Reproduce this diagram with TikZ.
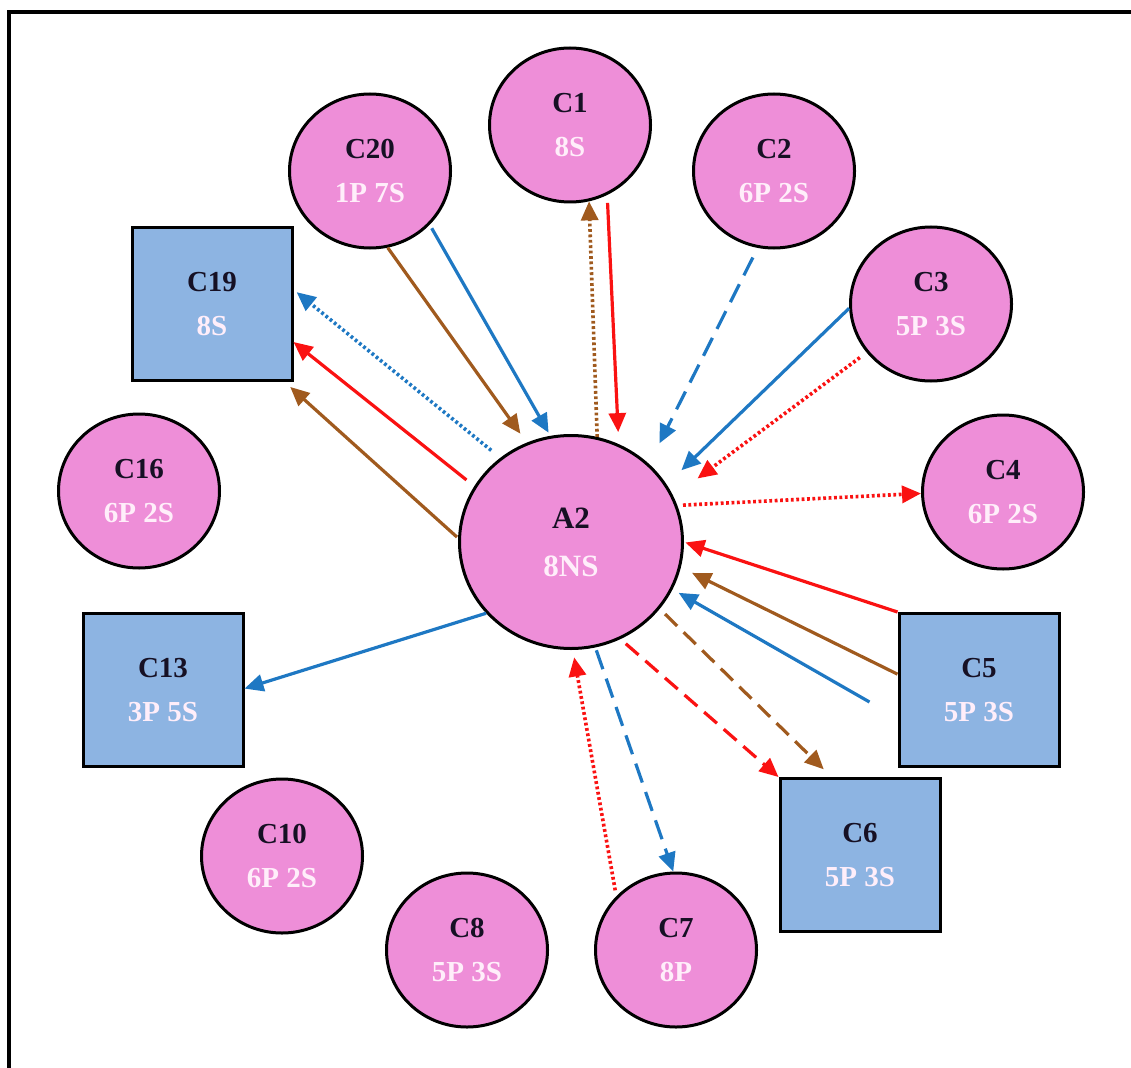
\documentclass[tikz,border=0pt]{standalone}
\usepackage{fontspec}
\setmainfont{Liberation Serif}
\usetikzlibrary{shapes.geometric,arrows.meta,calc}
\definecolor{pinkfill}{RGB}{238,142,216}
\definecolor{bluefill}{RGB}{141,180,226}
\definecolor{toptext}{RGB}{22,16,36}
\definecolor{bottext}{RGB}{255,238,250}
\definecolor{redc}{RGB}{250,18,18}
\definecolor{bluec}{RGB}{30,120,195}
\definecolor{brownc}{RGB}{160,90,30}
\newcommand{\toplab}[1]{{\color{toptext}#1}}
\newcommand{\botlab}[1]{{\color{bottext}#1}}
\begin{document}
\begin{tikzpicture}[x=1pt,y=-1pt,
  circ/.style={ellipse, draw=black, line width=3pt, fill=pinkfill,
    minimum width=161pt, minimum height=154pt, inner sep=0pt, align=center,
    font=\fontsize{29}{44}\selectfont\bfseries},
  bigcirc/.style={circ, minimum width=223pt, minimum height=213pt,
    font=\fontsize{31}{48}\selectfont\bfseries},
  sq/.style={rectangle, draw=black, line width=3pt, fill=bluefill,
    minimum width=160pt, minimum height=153pt, inner sep=0pt, align=center,
    font=\fontsize{29}{44}\selectfont\bfseries},
  con/.style={line width=3.2pt, -{Triangle[length=19pt,width=17pt]}},
  dotl/.style={line width=3.6pt, dash pattern=on 2.8pt off 2.6pt},
  dashl/.style={dash pattern=on 20pt off 10pt},
  dashs/.style={dash pattern=on 17pt off 9pt},
]
\useasboundingbox (0,0) rectangle (1131,1067);
% frame
\draw[line width=4pt] (9,1069) -- (9,12) -- (1133,12);

% nodes
\node[bigcirc] (A2) at (571,542) {\toplab{A2}\\\botlab{8NS}};
\node[circ] (C1) at (570,125) {\toplab{C1}\\\botlab{8S}};
\node[circ] (C2) at (774,171) {\toplab{C2}\\\botlab{6P 2S}};
\node[circ] (C3) at (931,304) {\toplab{C3}\\\botlab{5P 3S}};
\node[circ] (C4) at (1003,492) {\toplab{C4}\\\botlab{6P 2S}};
\node[sq] (C5) at (979,690) {\toplab{C5}\\\botlab{5P 3S}};
\node[sq] (C6) at (860,855) {\toplab{C6}\\\botlab{5P 3S}};
\node[circ] (C7) at (676,950) {\toplab{C7}\\\botlab{8P}};
\node[circ] (C8) at (467,950) {\toplab{C8}\\\botlab{5P 3S}};
\node[circ] (C10) at (282,856) {\toplab{C10}\\\botlab{6P 2S}};
\node[sq] (C13) at (163,690) {\toplab{C13}\\\botlab{3P 5S}};
\node[circ] (C16) at (139,491) {\toplab{C16}\\\botlab{6P 2S}};
\node[sq] (C19) at (212,304) {\toplab{C19}\\\botlab{8S}};
\node[circ] (C20) at (370,171) {\toplab{C20}\\\botlab{1P 7S}};
\coordinate (C5b) at ($(C5.west)+(-28,12)$);

% connectors
\draw[con,brownc,shorten >=11pt] (C20.-77.5) -- (A2.114);
\draw[con,bluec,shorten <=4pt,shorten >=3.6pt] (C20.-42.6) -- (A2.101.9);
\draw[con,bluec,dotl,shorten <=11.7pt,shorten >=4pt] (A2.130.7) -- (C19.10.7);
\draw[con,redc,shorten <=10pt] (A2.150.9) -- (C19.-25.7);
\draw[con,brownc,shorten <=1.5pt,shorten >=7.4pt] (A2.178) -- (C19.-47.9);
\draw[con,brownc,dotl] (A2.76.4) -- (C1.-76.8);
\draw[con,redc,shorten <=8pt,shorten >=12pt] (C1.-62.5) -- (A2.64.9);
\draw[con,bluec,dashl,shorten <=10.7pt,shorten >=23pt] (C2.-102.3) -- (A2.45);
\draw[con,bluec,shorten >=20.5pt] (C3.-177.9) -- (A2.31.6);
\draw[con,redc,dotl,shorten <=8.4pt,shorten >=30pt] (C3.-143.3) -- (A2.24.1);
\draw[con,redc,dotl,shorten <=5.7pt] (A2.19.4) -- (C4.181.4);
\draw[con,redc,shorten >=1.5pt] (C5.north west) -- (A2.-0.5);
\draw[con,brownc,shorten >=12.5pt] (C5.169.6) -- (A2.-13.9);
\draw[con,bluec,shorten >=7pt] (C5b) -- (A2.-25.5);
\draw[con,brownc,dashs,shorten <=7.4pt,shorten >=11pt] (A2.-37.1) -- (C6.110.6);
\draw[con,redc,dashs,shorten <=7pt] (A2.-63.2) -- (C6.north west);
\draw[con,bluec,dashl,shorten <=3pt] (A2.-77.5) -- (C7.92);
\draw[con,redc,dotl,shorten <=6pt,shorten >=7.5pt] (C7.138.3) -- (A2.-89);
\draw[con,bluec] (A2.220.2) -- (C13.1.4);
\end{tikzpicture}
\end{document}
